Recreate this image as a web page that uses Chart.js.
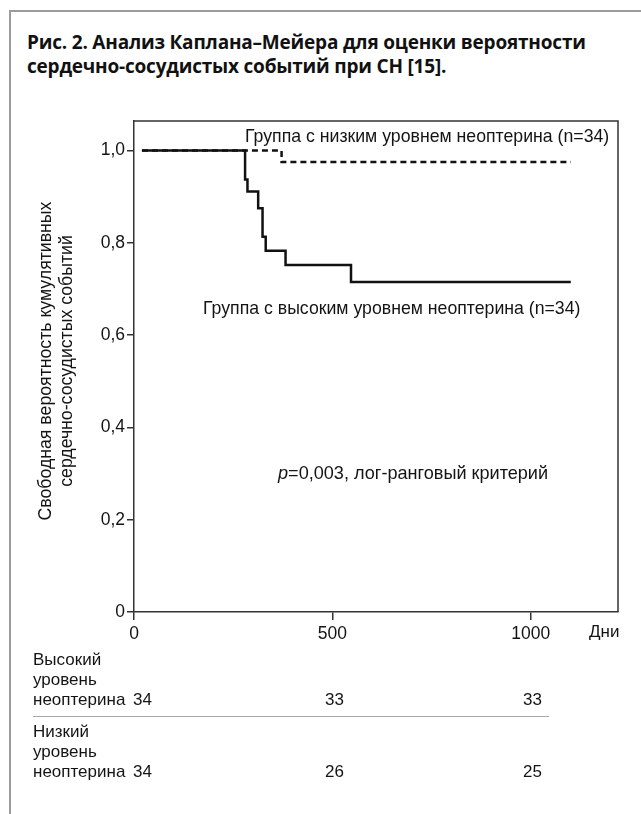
<!DOCTYPE html>
<html lang="ru">
<head>
<meta charset="utf-8">
<script src="https://cdn.jsdelivr.net/npm/chart.js@4.4.1/dist/chart.umd.min.js"></script>
<style>
  html, body { margin: 0; padding: 0; background: #fff; }
  body { width: 641px; height: 814px; position: relative; overflow: hidden;
         font-family: "Liberation Sans", Arial, sans-serif; color: #141414; }
  #frame { position: absolute; left: 9px; top: 10px; width: 640px; height: 810px;
           border-top: 2px solid #9b9b9b; border-left: 2px solid #9b9b9b; }
  #title { position: absolute; left: 27px; top: 30px; font-family: "Open Sans", sans-serif;
           font-weight: 700; font-size: 19px; line-height: 24px; letter-spacing: -0.2px; color: #111; }
  canvas { position: absolute; left: 0; top: 0; }
  .t { position: absolute; font-size: 17px; line-height: 20px; white-space: nowrap; }
  .a { font-size: 17.7px; }
  #ytitle { position: absolute; left: 56px; top: 361px; width: 400px; text-align: center;
            font-size: 17.7px; line-height: 21px; transform: translate(-50%, -50%) rotate(-90deg); }
  #sep { position: absolute; left: 33px; top: 716px; width: 516px; border-top: 1.5px solid #a8a8a8; }
</style>
</head>
<body>
<div id="frame"></div>
<div id="title">Рис. 2. Анализ Каплана–Мейера для оценки вероятности<br>сердечно-сосудистых событий при СН [15].</div>
<canvas id="km" width="641" height="814"></canvas>
<div id="ytitle">Свободная вероятность кумулятивных<br>сердечно-сосудистых событий</div>
<div class="t a" style="left:245px; top:126px">Группа с низким уровнем неоптерина (n=34)</div>
<div class="t a" style="left:203px; top:298px">Группа с высоким уровнем неоптерина (n=34)</div>
<div class="t" style="left:278px; top:463px; font-size:18.1px"><i>p</i>=0,003, лог-ранговый критерий</div>
<div class="t" style="left:589px; top:622px">Дни</div>
<div id="table"></div>
<div id="sep"></div>
<script>
// Kaplan–Meier curves
const highDays = [20, 280, 286, 313, 324, 332, 382, 547, 1101];
const highSurv = [1.0, 0.937, 0.911, 0.875, 0.813, 0.783, 0.752, 0.715, 0.715];
const lowDays = [20, 372, 1101];
const lowSurv = [1.0, 0.975, 0.975];

const xTicks = [0, 500, 1000];
const xTickLabels = ['0', '500', '1000'];
const yTicks = [0, 0.2, 0.4, 0.6, 0.8, 1.0];
const yTickLabels = ['0', '0,2', '0,4', '0,6', '0,8', '1,0'];

// numbers at risk table
const riskGroups = ['Высокий<br>уровень<br>неоптерина', 'Низкий<br>уровень<br>неоптерина'];
const riskHigh = [34, 33, 33];
const riskLow = [34, 26, 25];

const fontFamily = '"Liberation Sans", Arial, sans-serif';

function toPoints(days, surv) {
    return days.map((d, i) => ({ x: d, y: surv[i] }));
}

// top and right sides of the plot box
const boxPlugin = {
    id: 'box',
    afterDraw(chart) {
        const a = chart.chartArea;
        const c = chart.ctx;
        c.save();
        c.strokeStyle = '#333';
        c.lineWidth = 1.5;
        c.beginPath();
        c.moveTo(a.left, a.top);
        c.lineTo(a.right, a.top);
        c.lineTo(a.right, a.bottom);
        c.stroke();
        c.restore();
    }
};

const ctx = document.getElementById('km').getContext('2d');
const chart = new Chart(ctx, {
    type: 'line',
    data: {
        datasets: [
            {
                label: 'Высокий уровень неоптерина',
                data: toPoints(highDays, highSurv),
                stepped: true,
                borderColor: '#111',
                borderWidth: 2.5,
                pointRadius: 0,
                fill: false
            },
            {
                label: 'Низкий уровень неоптерина',
                data: toPoints(lowDays, lowSurv),
                stepped: true,
                borderColor: '#111',
                borderWidth: 2.5,
                borderDash: [6, 4],
                pointRadius: 0,
                fill: false
            }
        ]
    },
    options: {
        responsive: false,
        animation: false,
        layout: { padding: { left: 84, top: 121, right: 23, bottom: 162 } },
        plugins: { legend: { display: false }, tooltip: { enabled: false } },
        scales: {
            x: {
                type: 'linear',
                min: 0,
                max: 1220,
                afterBuildTicks: s => { s.ticks = xTicks.map(v => ({ value: v })); },
                afterFit: s => { s.height = 40; },
                grid: { drawOnChartArea: false, tickLength: 8, color: '#333', lineWidth: 1.5 },
                border: { display: true, color: '#333', width: 1.5 },
                ticks: { color: '#141414', font: { family: fontFamily, size: 17.5 }, padding: 4,
                         maxRotation: 0, autoSkip: false, callback: (v, i) => xTickLabels[i] }
            },
            y: {
                min: 0,
                max: 1.064,
                afterBuildTicks: s => { s.ticks = yTicks.map(v => ({ value: v })); },
                afterFit: s => { s.width = 50; },
                grid: { drawOnChartArea: false, tickLength: 7, color: '#333', lineWidth: 1.5 },
                border: { display: true, color: '#333', width: 1.5 },
                ticks: { color: '#141414', font: { family: fontFamily, size: 17.5 }, padding: 2,
                         callback: (v, i) => yTickLabels[i] }
            }
        }
    },
    plugins: [boxPlugin]
});

// numbers at risk
const table = document.getElementById('table');
const rowTops = [650, 722];
const numLefts = [133, 325, 523];
[riskHigh, riskLow].forEach((row, r) => {
    const lab = document.createElement('div');
    lab.className = 't';
    lab.style.left = '33px';
    lab.style.top = rowTops[r] + 'px';
    lab.innerHTML = riskGroups[r];
    table.appendChild(lab);
    row.forEach((n, i) => {
        const d = document.createElement('div');
        d.className = 't';
        d.style.left = numLefts[i] + 'px';
        d.style.top = (rowTops[r] + 40) + 'px';
        d.textContent = n;
        table.appendChild(d);
    });
});
</script>
</body>
</html>
